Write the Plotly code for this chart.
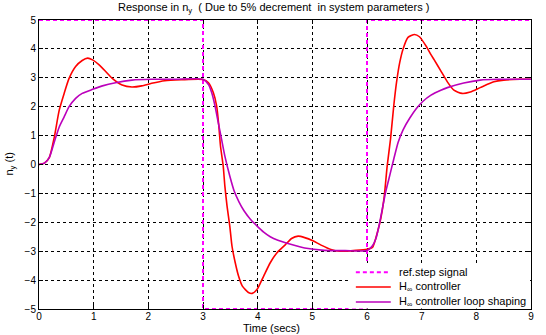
import plotly.graph_objects as go

# Reference step signal
ref_t = [0, 3, 3, 6, 6, 9]
ref_y = [5, 5, -5, -5, 5, 5]

# H-infinity controller response
hinf_t = [0, 0.1, 0.19, 0.28, 0.37, 0.46, 0.55, 0.67, 0.79, 0.89, 0.98, 1.1, 1.22, 1.34, 1.52, 1.7, 1.88, 2.06, 2.3, 2.6, 3.0,
          3.1, 3.19, 3.25, 3.29, 3.32, 3.37, 3.40, 3.44, 3.49, 3.53, 3.59, 3.65, 3.72, 3.84, 3.90, 3.99, 4.11, 4.23, 4.35,
          4.5, 4.62, 4.74, 4.86, 5.01, 5.16, 5.34, 5.5, 5.8, 6.0,
          6.1, 6.19, 6.25, 6.31, 6.37, 6.43, 6.49, 6.54, 6.60, 6.66, 6.75, 6.87, 6.96, 7.08, 7.17, 7.23, 7.35, 7.47, 7.59, 7.74,
          7.89, 8.07, 8.32, 8.5, 8.8, 9.0]
hinf_y = [0, 0.05, 0.25, 0.95, 1.88, 2.46, 2.98, 3.39, 3.6, 3.68, 3.62, 3.45, 3.22, 2.98, 2.75, 2.68, 2.72, 2.81, 2.9, 2.93, 2.94,
          2.83, 2.48, 2.02, 1.33, 0.64, -0.06, -0.75, -1.44, -2.13, -2.82, -3.40, -3.86, -4.21, -4.44, -4.46, -4.32, -3.86, -3.40, -3.06,
          -2.79, -2.56, -2.48, -2.53, -2.64, -2.79, -2.94, -3.0, -2.97, -2.93,
          -2.87, -2.35, -1.89, -1.19, -0.04, 0.88, 2.04, 2.84, 3.54, 4.0, 4.4, 4.5, 4.42, 4.1, 3.8, 3.62, 3.24, 2.86, 2.57, 2.46,
          2.51, 2.66, 2.86, 2.92, 2.95, 2.95]

# H-infinity loop shaping controller response
ls_t = [0, 0.1, 0.19, 0.28, 0.37, 0.46, 0.55, 0.67, 0.79, 0.98, 1.16, 1.4, 1.7, 2.06, 2.5, 3.0,
        3.1, 3.16, 3.22, 3.28, 3.34, 3.40, 3.49, 3.57, 3.66, 3.75, 3.87, 3.99, 4.11, 4.23, 4.37, 4.62, 4.86, 5.22, 5.6, 6.0,
        6.1, 6.16, 6.22, 6.28, 6.34, 6.40, 6.49, 6.57, 6.66, 6.78, 6.90, 7.02, 7.17, 7.35, 7.47, 7.77, 8.07, 8.4, 9.0]
ls_y = [0, 0.05, 0.25, 0.78, 1.3, 1.65, 2.0, 2.29, 2.46, 2.6, 2.72, 2.83, 2.92, 2.95, 2.95, 2.95,
        2.77, 2.48, 2.02, 1.44, 0.87, 0.29, -0.40, -0.92, -1.3, -1.6, -1.9, -2.13, -2.34, -2.5, -2.62, -2.77, -2.89, -2.97, -2.98, -2.98,
        -2.81, -2.58, -2.12, -1.54, -0.96, -0.5, 0.19, 0.77, 1.2, 1.6, 1.93, 2.18, 2.4, 2.57, 2.66, 2.82, 2.92, 2.95, 2.95]

x_ticks = list(range(0, 10))
y_ticks = list(range(-5, 6))

series_names = ["ref.step signal", "H<sub>∞</sub> controller", "H<sub>∞</sub> controller loop shaping"]
series_colors = ["#FF00FF", "#FF0000", "#BB00BB"]
series_dash = ["4px,3px", "solid", "solid"]

font = "Liberation Sans, Arial, sans-serif"

fig = go.Figure()
fig.add_trace(go.Scatter(x=ref_t, y=ref_y, mode="lines", name=series_names[0],
                         line=dict(color=series_colors[0], width=2, dash=series_dash[0])))
fig.add_trace(go.Scatter(x=hinf_t, y=hinf_y, mode="lines", name=series_names[1],
                         line=dict(color=series_colors[1], width=1.6, shape="spline", smoothing=0.6)))
fig.add_trace(go.Scatter(x=ls_t, y=ls_y, mode="lines", name=series_names[2],
                         line=dict(color=series_colors[2], width=1.6, shape="spline", smoothing=0.6)))

axis_common = dict(
    showline=True, linecolor="black", linewidth=1, mirror="ticks",
    ticks="inside", ticklen=4, tickcolor="black",
    showgrid=True, gridcolor="black", gridwidth=1, griddash="3px,3px",
    zeroline=False, tickfont=dict(family=font, size=10, color="black"),
)

fig.update_layout(
    width=546, height=335,
    margin=dict(l=39, r=12, t=20, b=26),
    paper_bgcolor="white", plot_bgcolor="white",
    font=dict(family=font, size=10, color="black"),
    showlegend=False,
    xaxis=dict(range=[0, 9], tickvals=x_ticks, ticklabelstandoff=-2, **axis_common),
    yaxis=dict(range=[-5, 5], tickvals=y_ticks, **axis_common),
)

# Manual legend (box, line samples, labels) in paper coordinates
fig.add_shape(type="rect", xref="paper", yref="paper", x0=0.628, x1=0.998, y0=0.002, y1=0.159,
              fillcolor="white", line=dict(width=0), layer="above")
legend_rows_y = [0.127, 0.076, 0.024]
for name, color, dash, ly in zip(series_names, series_colors, series_dash, legend_rows_y):
    fig.add_shape(type="line", xref="paper", yref="paper", x0=0.644, x1=0.715, y0=ly, y1=ly,
                  line=dict(color=color, width=2 if dash != "solid" else 1.6, dash=dash), layer="above")
    fig.add_annotation(text=name, xref="paper", yref="paper", x=0.727, y=ly, xanchor="left", yanchor="middle",
                       showarrow=False, font=dict(family=font, size=11, color="black"))

fig.add_annotation(text="Response in n<sub>y</sub>  ( Due to 5% decrement  in system parameters )",
                   xref="paper", yref="paper", x=0.476, y=1.0, yshift=12, xanchor="center", yanchor="middle",
                   showarrow=False, font=dict(family=font, size=11, color="black"))
fig.add_annotation(text="Time (secs)", xref="paper", yref="paper", x=0.472, y=0, yshift=-19,
                   xanchor="center", yanchor="middle", showarrow=False,
                   font=dict(family=font, size=11, color="black"))
fig.add_annotation(text="n<sub>y</sub> (t)", xref="paper", yref="paper", x=0, xshift=-30, y=0.5,
                   xanchor="center", yanchor="middle", textangle=-90, showarrow=False,
                   font=dict(family=font, size=11, color="black"))

# remove the page's default 8px body margin so the figure fills the window exactly
fig.write_html("out.html", config={"displayModeBar": False},
               post_script="document.body.style.margin='0px';")
